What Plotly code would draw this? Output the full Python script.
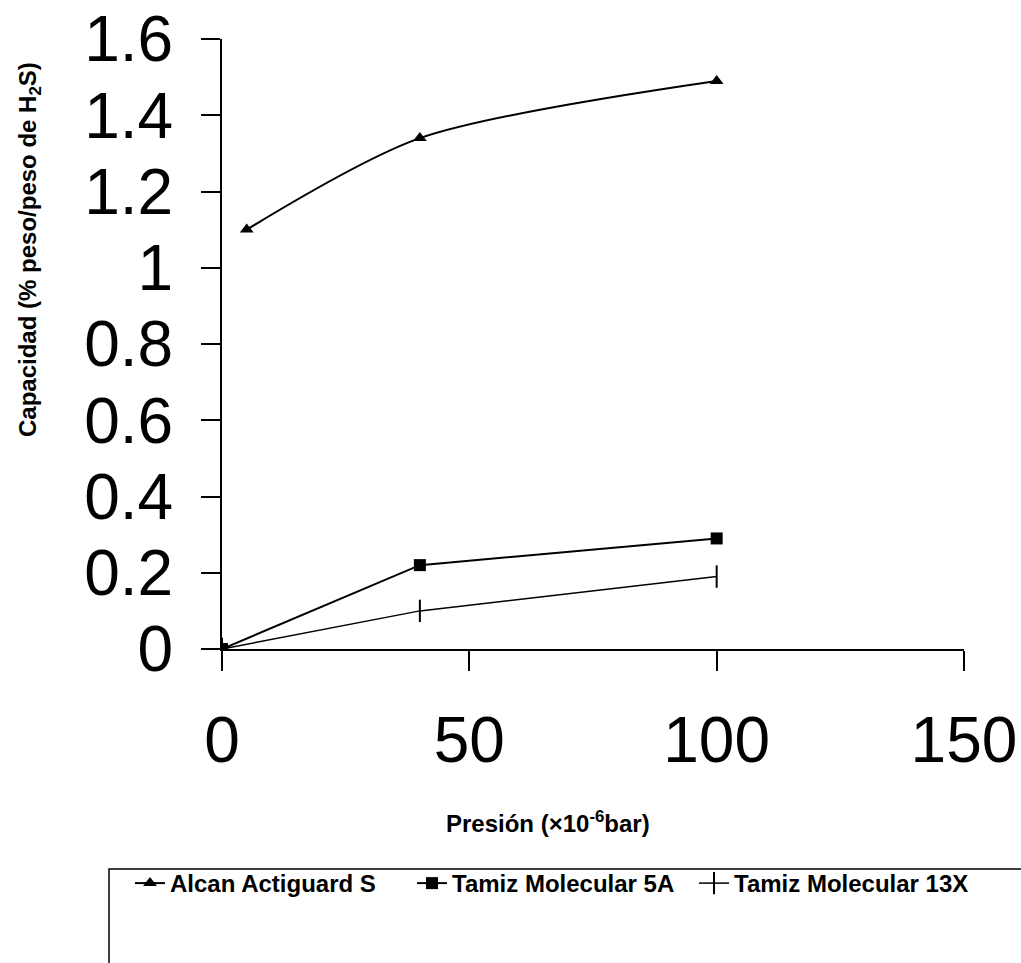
import plotly.graph_objects as go

alcan_x = [5, 40, 100]
alcan_y = [1.10, 1.34, 1.49]
t5a_x = [0, 40, 100]
t5a_y = [0.0, 0.22, 0.29]
t13x_x = [0, 40, 100]
t13x_y = [0.0, 0.10, 0.19]

x_ticks = [0, 50, 100, 150]
y_ticks = [0, 0.2, 0.4, 0.6, 0.8, 1, 1.2, 1.4, 1.6]
y_tick_labels = ["0", "0.2", "0.4", "0.6", "0.8", "1", "1.2", "1.4", "1.6"]

W, H = 1021, 963
# plot area in screen pixels
L, R, T, B = 222, 964, 39, 649
PW, PH = R - L, B - T


def px(xs):
    return (xs - L) / PW


def py(ys):
    return (B - ys) / PH


fig = go.Figure()
fig.add_trace(go.Scatter(
    x=alcan_x, y=alcan_y, mode="lines+markers", name="Alcan Actiguard S",
    line=dict(color="black", width=2, shape="spline", smoothing=0.8),
    marker=dict(symbol="triangle-up", size=12, color="black"),
))
fig.add_trace(go.Scatter(
    x=t5a_x, y=t5a_y, mode="lines+markers", name="Tamiz Molecular 5A",
    line=dict(color="black", width=2),
    marker=dict(symbol="square", size=12, color="black"),
))
fig.add_trace(go.Scatter(
    x=t13x_x, y=t13x_y, mode="lines+markers", name="Tamiz Molecular 13X",
    line=dict(color="black", width=1.5),
    marker=dict(symbol="line-ns", size=16, color="black", line=dict(color="black", width=2)),
))

fig.update_layout(
    width=W, height=H,
    margin=dict(l=L, r=W - R, t=T, b=H - B),
    paper_bgcolor="white", plot_bgcolor="white",
    showlegend=True,
    legend=dict(
        orientation="h", x=px(130), y=py(861), xanchor="left", yanchor="top",
        font=dict(family="Liberation Sans", size=24, color="black", weight="bold"),
        bgcolor="rgba(0,0,0,0)", entrywidth=237,
    ),
)
fig.update_xaxes(
    range=[0, 150], tickvals=x_ticks, ticktext=[str(v) for v in x_ticks],
    showline=True, linecolor="black", linewidth=2, showgrid=False, zeroline=False,
    ticks="outside", ticklen=20, tickwidth=2, tickcolor="black",
    tickfont=dict(family="Liberation Sans", size=64, color="black"),
    ticklabelstandoff=14, ticklabeloverflow="allow", automargin=False,
)
fig.update_yaxes(
    range=[0, 1.6], tickvals=y_ticks, ticktext=y_tick_labels,
    showline=True, linecolor="black", linewidth=2, showgrid=False, zeroline=False,
    ticks="outside", ticklen=19, tickwidth=1.5, tickcolor="black",
    tickfont=dict(family="Liberation Sans", size=64, color="black"),
    ticklabelstandoff=15, ticklabeloverflow="allow", automargin=False,
)

# axis titles
fig.add_annotation(
    xref="paper", yref="paper", x=px(548), y=py(822),
    text="<b>Presión (×10<sup>-6</sup>bar)</b>", showarrow=False,
    font=dict(family="Liberation Sans", size=24, color="black"),
    xanchor="center", yanchor="middle",
)
fig.add_annotation(
    xref="paper", yref="paper", x=px(29), y=py(250),
    text="<b>Capacidad (% peso/peso de H<sub>2</sub>S)</b>", showarrow=False,
    textangle=-90,
    font=dict(family="Liberation Sans", size=24, color="black"),
    xanchor="center", yanchor="middle",
)
# legend frame
fig.add_shape(
    type="rect", xref="paper", yref="paper",
    x0=px(109), x1=px(1060), y0=py(869), y1=py(1000),
    line=dict(color="black", width=1.5), fillcolor="rgba(0,0,0,0)",
)

fig.write_html(
    "out.html",
    config={"displayModeBar": False},
    post_script="document.body.style.margin='0';document.body.style.overflow='hidden';",
)
